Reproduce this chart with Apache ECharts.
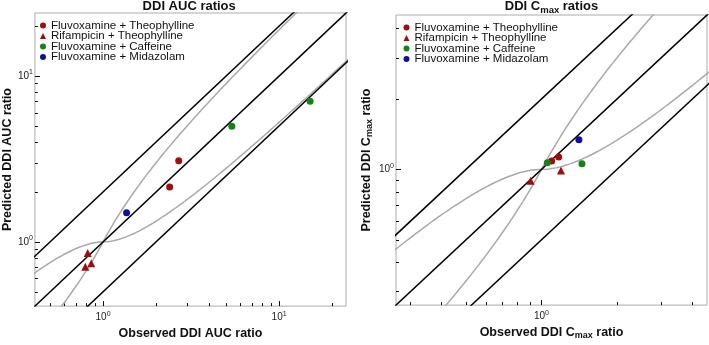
<!DOCTYPE html>
<html>
<head>
<meta charset="utf-8">
<script src="https://cdn.jsdelivr.net/npm/echarts@6/dist/echarts.min.js"></script>
<style>html,body{margin:0;padding:0;background:#fff;}#c{width:709px;height:345px;}</style>
</head>
<body>
<div id="c"></div>
<script>
// ---------- data ----------
const seriesNames = ['Fluvoxamine + Theophylline', 'Rifampicin + Theophylline', 'Fluvoxamine + Caffeine', 'Fluvoxamine + Midazolam'];
const seriesSymbols = ['circle', 'triangle', 'circle', 'circle'];
const seriesColors = ['#a00d0d', '#a00d0d', '#168216', '#0e0ea0'];

// AUC ratios [observed, predicted]
const aucFluvTheo = [[2.69, 3.08], [2.39, 2.14]];
const aucRifTheo = [[0.818, 0.858], [0.793, 0.707], [0.857, 0.743]];
const aucFluvCaf = [[5.39, 4.98], [15.0, 7.05]];
const aucFluvMid = [[1.36, 1.50]];

// Cmax ratios [observed, predicted]
const cmaxFluvTheo = [[1.098, 1.085], [1.171, 1.13]];
const cmaxRifTheo = [[1.196, 0.99], [0.905, 0.895]];
const cmaxFluvCaf = [[1.055, 1.068], [1.45, 1.058]];
const cmaxFluvMid = [[1.41, 1.34]];

// axis ranges and ticks
const aucRange = [0.41, 24];
const cmaxRange = [0.263, 4.57];
const aucMajorTicks = [1, 10];
const aucMinorTicks = [0.5, 0.6, 0.7, 0.8, 0.9, 2, 3, 4, 5, 6, 7, 8, 9, 20];
const cmaxMajorTicks = [1];
const cmaxMinorTicks = [0.3, 0.4, 0.5, 0.6, 0.7, 0.8, 0.9, 2, 3, 4];

// reference lines y = k*x
const refFactors = [0.5, 1, 2];
// Guest et al. limits (delta = 1), evaluated on a log grid of observed ratios
const guestR = [];
for (let i = 0; i <= 400; i++) guestR.push(Math.pow(10, -1.2 + i * 2.8 / 400));
function guestFlat(R) { return R < 1 ? R * (2 - R) : R * R / (2 * R - 1); }
function guestSteep(R) { return R < 1 ? R / (2 - R) : 2 * R - 1; }

// ---------- chart ----------
const chart = echarts.init(document.getElementById('c'), null, {renderer: 'canvas'});
const FONT = 'Liberation Sans, Arial, Helvetica, sans-serif';

const gridDefs = [
  {left: 32.5, top: 13, width: 313.5, height: 304.5},
  {left: 396, top: 15, width: 311, height: 300}
];

function labelFmt(v) { return '10{sup|' + Math.round(Math.log10(v)) + '}'; }
const labelRich = {sup: {fontSize: 7, verticalAlign: 'bottom', padding: [0, 0, 7, 0], fontFamily: FONT, color: '#222'}};

const xAxes = [], yAxes = [];
const panels = [
  {range: aucRange, major: aucMajorTicks, minor: aucMinorTicks,
   xName: 'Observed DDI AUC ratio', yName: 'Predicted DDI AUC ratio',
   data: [aucFluvTheo, aucRifTheo, aucFluvCaf, aucFluvMid]},
  {range: cmaxRange, major: cmaxMajorTicks, minor: cmaxMinorTicks,
   xName: 'Observed DDI C{sub|max} ratio', yName: 'Predicted DDI C{sub|max} ratio',
   data: [cmaxFluvTheo, cmaxRifTheo, cmaxFluvCaf, cmaxFluvMid]}
];
const nameRich = {sub: {fontSize: 9, fontWeight: 'bold', fontFamily: FONT, color: '#111', verticalAlign: 'top', padding: [6, 0, 0, 0]}};

const series = [];
panels.forEach((p, gi) => {
  xAxes.push({type: 'log', logBase: 10, gridIndex: gi, min: p.range[0], max: p.range[1], position: 'bottom',
    axisLine: {show: false}, splitLine: {show: false},
    axisTick: {show: true, inside: true, length: 5, customValues: p.major, lineStyle: {color: '#111', width: 1}},
    axisLabel: {customValues: p.major, formatter: labelFmt, rich: labelRich, fontSize: 10, fontFamily: FONT, color: '#222', margin: 4},
    name: p.xName, nameLocation: 'middle', nameGap: 16,
    nameTextStyle: {fontSize: 12.5, fontWeight: 'bold', fontFamily: FONT, color: '#111', rich: nameRich}});
  yAxes.push({type: 'log', logBase: 10, gridIndex: gi, min: p.range[0], max: p.range[1], position: 'left',
    axisLine: {show: false}, splitLine: {show: false},
    axisTick: {show: true, inside: true, length: 5, customValues: p.major, lineStyle: {color: '#111', width: 1}},
    axisLabel: {customValues: p.major, formatter: labelFmt, rich: labelRich, fontSize: 10, fontFamily: FONT, color: '#222', margin: 2},
    name: p.yName, nameLocation: 'middle', nameGap: gi === 0 ? 19 : 22,
    nameTextStyle: {fontSize: 12.5, fontWeight: 'bold', fontFamily: FONT, color: '#111', rich: nameRich}});
  xAxes.push({type: 'log', logBase: 10, gridIndex: gi, min: p.range[0], max: p.range[1], position: 'bottom',
    axisLine: {show: false}, splitLine: {show: false}, axisLabel: {show: false},
    axisTick: {show: true, inside: true, length: 3, customValues: p.minor, lineStyle: {color: '#111', width: 1}}});
  yAxes.push({type: 'log', logBase: 10, gridIndex: gi, min: p.range[0], max: p.range[1], position: 'left',
    axisLine: {show: false}, splitLine: {show: false}, axisLabel: {show: false},
    axisTick: {show: true, inside: true, length: 3, customValues: p.minor, lineStyle: {color: '#111', width: 1}}});

  const xi = gi * 2, yi = gi * 2;
  [guestFlat, guestSteep].forEach(fn => {
    series.push({type: 'line', xAxisIndex: xi, yAxisIndex: yi, showSymbol: false, silent: true, clip: true,
      data: guestR.map(R => [R, fn(R)]), lineStyle: {color: '#a9a9a9', width: 1.5}, z: 2});
  });
  refFactors.forEach(k => {
    series.push({type: 'line', xAxisIndex: xi, yAxisIndex: yi, showSymbol: false, silent: true, clip: true,
      data: [[0.01, 0.01 * k], [1000, 1000 * k]], lineStyle: {color: '#000', width: 1.5}, z: 3});
  });
  p.data.forEach((d, si) => {
    series.push({type: 'scatter', name: seriesNames[si], xAxisIndex: xi, yAxisIndex: yi,
      symbol: seriesSymbols[si], symbolSize: seriesSymbols[si] === 'triangle' ? 8 : 7,
      itemStyle: {color: seriesColors[si], opacity: 1}, data: d, z: 5});
  });
});

const legendBase = {orient: 'vertical', itemWidth: 6, itemHeight: 6, itemGap: -1.5, padding: 0,
  textStyle: {fontSize: 11.5, fontFamily: FONT, color: '#111'},
  itemStyle: {opacity: 1},
  data: seriesNames.map((n, i) => ({name: n, icon: seriesSymbols[i]})), selectedMode: false};

chart.setOption({
  animation: false,
  grid: gridDefs.map(g => Object.assign({show: true, borderColor: '#ababab', borderWidth: 1, backgroundColor: 'transparent', containLabel: false}, g)),
  xAxis: xAxes,
  yAxis: yAxes,
  legend: [
    Object.assign({left: 40, top: 19.5}, legendBase),
    Object.assign({left: 403.5, top: 21.5}, legendBase)
  ],
  graphic: [
    {type: 'text', x: 189.2, y: 6.5, style: {text: 'DDI AUC ratios', textAlign: 'center', textVerticalAlign: 'middle',
      fontSize: 13, fontWeight: 'bold', fontFamily: FONT, fill: '#111'}},
    {type: 'text', x: 551.5, y: 6.5, style: {text: 'DDI C{sub|max} ratios', textAlign: 'center', textVerticalAlign: 'middle',
      fontSize: 13, fontWeight: 'bold', fontFamily: FONT, fill: '#111',
      rich: {sub: {fontSize: 9.5, fontWeight: 'bold', fontFamily: FONT, fill: '#111', verticalAlign: 'top', padding: [7, 0, 0, 0]}}}}
  ],
  series: series
});
</script>
</body>
</html>
